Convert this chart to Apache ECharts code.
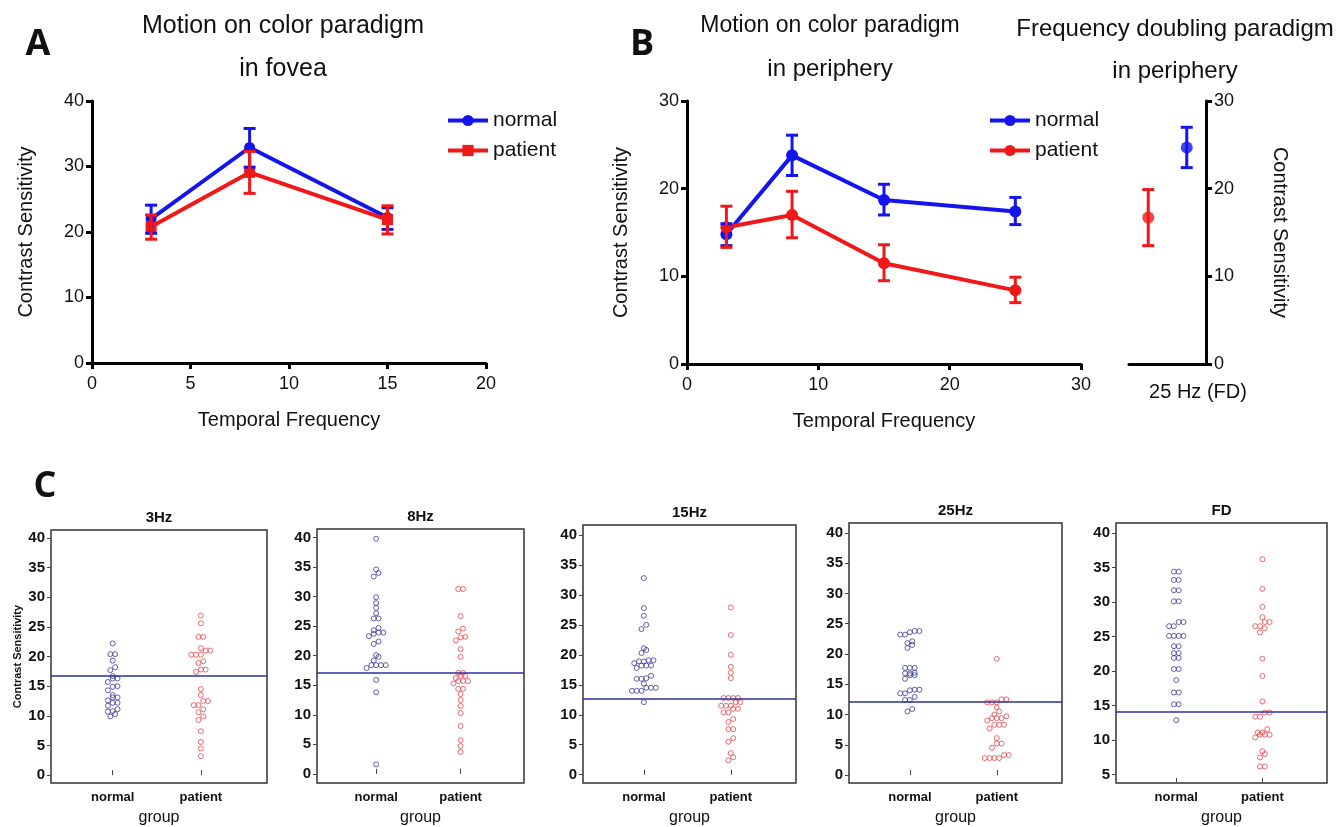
<!DOCTYPE html>
<html>
<head>
<meta charset="utf-8">
<script src="https://cdn.jsdelivr.net/npm/echarts@6/dist/echarts.min.js"></script>
<style>
  html, body { margin: 0; background: #fff; }
  #main { width: 1336px; height: 827px; }
</style>
</head>
<body>
<div id="main"></div>
<script>
// A: motion on color, fovea
const freqA = [3, 8, 15];
const normalA = [22.0, 32.9, 22.2];
const normalA_lo = [19.8, 29.9, 20.4];
const normalA_hi = [24.1, 35.8, 23.7];
const patientA = [20.8, 29.1, 21.9];
const patientA_lo = [18.9, 25.9, 19.7];
const patientA_hi = [22.6, 32.3, 24.0];

// B: motion on color, periphery
const freqB = [3, 8, 15, 25];
const normalB = [14.8, 23.8, 18.7, 17.4];
const normalB_lo = [13.5, 21.5, 17.0, 15.9];
const normalB_hi = [16.0, 26.1, 20.5, 19.0];
const patientB = [15.6, 17.0, 11.5, 8.4];
const patientB_lo = [13.3, 14.4, 9.5, 7.0];
const patientB_hi = [18.0, 19.7, 13.6, 9.9];

// B right: frequency doubling 25 Hz
const fdGroups = ['patient', 'normal'];
const fdMean = [16.7, 24.7];
const fdLo = [13.5, 22.4];
const fdHi = [19.9, 27.0];

// C: individual values
const panelNames = ['3Hz', '8Hz', '15Hz', '25Hz', 'FD'];
const groupNames = ['normal', 'patient'];
const normal3 = [22.2, 20.4, 20.4, 19.3, 18.2, 17.7, 16.7, 16.3, 16.3, 15.7, 15.0, 14.9, 14.3, 13.5, 13.1, 13.1, 12.6, 12.2, 12.2, 11.7, 11.1, 10.8, 10.7, 10.3, 9.9];
const patient3 = [26.9, 25.6, 23.3, 23.3, 21.4, 21.0, 21.0, 20.3, 20.3, 20.3, 19.2, 18.9, 17.8, 17.8, 17.4, 14.5, 13.5, 12.5, 12.5, 11.8, 11.8, 11.1, 10.6, 9.9, 9.3, 7.4, 5.6, 4.5, 3.2];
const normal8 = [39.8, 34.6, 34.0, 33.4, 29.9, 28.9, 28.1, 27.2, 26.3, 26.3, 24.7, 24.3, 23.9, 23.9, 23.7, 23.3, 22.4, 22.0, 20.1, 19.8, 19.2, 18.4, 18.4, 18.4, 18.4, 17.9, 15.9, 13.8, 1.6];
const patient8 = [31.3, 31.3, 26.7, 24.6, 24.1, 23.2, 23.1, 22.6, 21.1, 19.8, 17.1, 17.1, 16.6, 16.6, 16.2, 15.7, 15.7, 15.7, 15.3, 14.4, 14.4, 13.5, 12.5, 11.5, 10.3, 8.1, 5.7, 4.7, 3.7];
const normal15 = [32.8, 27.8, 26.5, 25.0, 24.3, 21.1, 20.8, 20.3, 19.1, 19.1, 18.9, 18.9, 18.6, 18.2, 18.2, 18.2, 17.8, 16.5, 16.1, 16.0, 16.0, 15.2, 14.5, 14.5, 14.5, 14.0, 14.0, 14.0, 12.1];
const patient15 = [27.9, 23.3, 20.0, 18.0, 17.0, 16.1, 12.8, 12.8, 12.8, 12.8, 12.1, 12.1, 11.5, 11.5, 11.5, 11.0, 11.0, 10.4, 10.4, 9.3, 8.8, 7.6, 7.6, 6.1, 5.5, 3.6, 2.9, 2.4];
const normal25 = [23.8, 23.8, 23.6, 23.2, 23.2, 22.1, 21.8, 21.5, 21.0, 17.7, 17.7, 17.7, 16.9, 16.8, 16.8, 16.5, 16.5, 15.9, 14.1, 14.1, 14.0, 13.5, 13.5, 12.9, 12.4, 12.4, 10.9, 10.5];
const patient25 = [19.2, 12.5, 12.5, 12.0, 12.0, 12.0, 11.2, 10.5, 10.0, 9.7, 9.4, 9.4, 9.4, 9.0, 8.3, 8.3, 8.3, 7.7, 6.1, 5.2, 5.2, 4.5, 3.3, 3.3, 2.8, 2.8, 2.8, 2.8];
const normalFD = [34.4, 34.4, 33.2, 33.2, 31.7, 31.7, 30.1, 30.1, 27.1, 27.1, 26.5, 26.5, 25.1, 25.1, 25.1, 25.1, 23.6, 23.6, 22.6, 22.6, 21.9, 21.9, 20.3, 20.3, 18.7, 16.9, 16.9, 15.2, 15.2, 12.9];
const patientFD = [36.2, 31.9, 29.3, 27.8, 27.1, 27.1, 26.5, 26.5, 26.2, 25.6, 21.8, 19.3, 15.6, 14.0, 14.0, 13.4, 13.4, 11.6, 11.1, 11.1, 10.8, 10.8, 10.8, 10.4, 8.4, 8.0, 7.5, 6.2, 6.2];
const cutoffs = [16.8, 17.1, 12.7, 12.1, 14.1];
const ticksC = [0, 5, 10, 15, 20, 25, 30, 35, 40];
const ticksFD = [5, 10, 15, 20, 25, 30, 35, 40];

const cNormal = [normal3, normal8, normal15, normal25, normalFD];
const cPatient = [patient3, patient8, patient15, patient25, patientFD];

const BLUE = '#1414ee';
const RED = '#f01818';
const DOT_BLUE = '#3b3b99';
const DOT_RED = '#e6474d';
const FONT = '"Liberation Sans", Arial, sans-serif';
const NARROW = '"Liberation Sans Narrow", "Liberation Sans", Arial, sans-serif';

const chart = echarts.init(document.getElementById('main'));

// layout of the small dot plots
const cGrids = [
  { left: 51, top: 530, width: 216, height: 258 },
  { left: 317, top: 529, width: 207, height: 258 },
  { left: 583, top: 525, width: 213, height: 260 },
  { left: 849, top: 523, width: 213, height: 260 },
  { left: 1116, top: 523, width: 211, height: 261 }
];
const cRanges = [[-1.32, 41.32], [-1.55, 41.45], [-1.38, 41.65], [-1.32, 41.65], [3.8, 41.44]];
const X_MIN = 0.3, X_MAX = 2.75;

// stack close values side by side, like a dot plot
function swarm(values, center, grid, yr) {
  const pxX = grid.width / (X_MAX - X_MIN);
  const pxY = grid.height / (yr[1] - yr[0]);
  const d = 4.8;
  const rows = [];
  values.slice().sort((a, b) => a - b).forEach((v) => {
    const row = rows[rows.length - 1];
    if (row && (v - row[0]) * pxY < d * 0.9) row.push(v);
    else rows.push([v]);
  });
  const out = [];
  rows.forEach((row) => {
    row.forEach((v, i) => out.push([center + (i - (row.length - 1) / 2) * d / pxX, v]));
  });
  return out;
}

function errorBars(xs, lo, hi, color, axis) {
  return {
    type: 'custom',
    xAxisIndex: axis,
    yAxisIndex: axis,
    silent: true,
    z: 4,
    data: xs.map((x, i) => [x, lo[i], hi[i]]),
    renderItem: (params, api) => {
      const top = api.coord([api.value(0), api.value(2)]);
      const bot = api.coord([api.value(0), api.value(1)]);
      const c = typeof color === 'function' ? color(params.dataIndex) : color;
      const w = 6;
      const st = { stroke: c, lineWidth: 3 };
      return {
        type: 'group',
        children: [
          { type: 'line', shape: { x1: top[0], y1: top[1], x2: bot[0], y2: bot[1] }, style: st },
          { type: 'line', shape: { x1: top[0] - w, y1: top[1], x2: top[0] + w, y2: top[1] }, style: st },
          { type: 'line', shape: { x1: bot[0] - w, y1: bot[1], x2: bot[0] + w, y2: bot[1] }, style: st }
        ]
      };
    }
  };
}

const zip = (xs, ys) => xs.map((x, i) => [x, ys[i]]);

const bigAxis = {
  axisLine: { show: true, onZero: false, lineStyle: { color: '#000', width: 3 } },
  axisTick: { show: true, length: 6, lineStyle: { color: '#000', width: 3 } },
  axisLabel: { color: '#111', fontSize: 18, fontFamily: FONT, margin: 8 },
  splitLine: { show: false },
  nameLocation: 'middle',
  nameTextStyle: { color: '#111', fontSize: 20, fontFamily: FONT }
};
const xLabel = { color: '#111', fontSize: 18, fontFamily: FONT, margin: 12 };

const xAxes = [
  Object.assign({}, bigAxis, { gridIndex: 0, type: 'value', min: 0, max: 20, interval: 5, name: 'Temporal Frequency', nameGap: 47, axisLabel: xLabel }),
  Object.assign({}, bigAxis, { gridIndex: 1, type: 'value', min: 0, max: 30, interval: 10, name: 'Temporal Frequency', nameGap: 47, axisLabel: xLabel }),
  { gridIndex: 2, type: 'category', data: fdGroups, axisLine: { show: true, onZero: false, lineStyle: { color: '#000', width: 3 } },
    axisTick: { show: false }, axisLabel: { show: false }, splitLine: { show: false } }
];
const yAxes = [
  Object.assign({}, bigAxis, { gridIndex: 0, type: 'value', min: 0, max: 40, interval: 10, name: 'Contrast Sensitivity', nameGap: 56 }),
  Object.assign({}, bigAxis, { gridIndex: 1, type: 'value', min: 0, max: 30, interval: 10, name: 'Contrast Sensitivity', nameGap: 56 }),
  Object.assign({}, bigAxis, { gridIndex: 2, type: 'value', position: 'right', min: 0, max: 30, interval: 10,
    name: 'Contrast Sensitivity', nameGap: 64, nameRotate: -90 })
];

const grids = [
  { left: 92, top: 101, width: 394, height: 262 },
  { left: 687, top: 101, width: 394, height: 263 },
  { left: 1129, top: 101, width: 77, height: 263 }
];

const series = [
  { type: 'line', name: 'normal', xAxisIndex: 0, yAxisIndex: 0, data: zip(freqA, normalA), symbol: 'circle', symbolSize: 11,
    lineStyle: { color: BLUE, width: 4 }, itemStyle: { color: BLUE }, z: 3 },
  { type: 'line', name: 'patient', xAxisIndex: 0, yAxisIndex: 0, data: zip(freqA, patientA), symbol: 'rect', symbolSize: 11,
    lineStyle: { color: RED, width: 4 }, itemStyle: { color: RED }, z: 3 },
  errorBars(freqA, normalA_lo, normalA_hi, BLUE, 0),
  errorBars(freqA, patientA_lo, patientA_hi, RED, 0),
  { type: 'line', name: 'normal ', xAxisIndex: 1, yAxisIndex: 1, data: zip(freqB, normalB), symbol: 'circle', symbolSize: 12,
    lineStyle: { color: BLUE, width: 4 }, itemStyle: { color: BLUE }, z: 3 },
  { type: 'line', name: 'patient ', xAxisIndex: 1, yAxisIndex: 1, data: zip(freqB, patientB), symbol: 'circle', symbolSize: 12,
    lineStyle: { color: RED, width: 4 }, itemStyle: { color: RED }, z: 3 },
  errorBars(freqB, normalB_lo, normalB_hi, BLUE, 1),
  errorBars(freqB, patientB_lo, patientB_hi, RED, 1),
  { type: 'scatter', xAxisIndex: 2, yAxisIndex: 2, data: fdMean, symbolSize: 12,
    itemStyle: { color: (p) => (p.dataIndex === 0 ? RED : BLUE) }, z: 3 },
  errorBars([0, 1], fdLo, fdHi, (i) => (i === 0 ? RED : BLUE), 2)
];

panelNames.forEach((name, i) => {
  const k = i + 3;
  const g = cGrids[i];
  const yr = cRanges[i];
  grids.push(Object.assign({ show: true, borderColor: '#333', borderWidth: 1.5 }, g));
  xAxes.push({
    gridIndex: k, type: 'value', min: X_MIN, max: X_MAX,
    axisLine: { show: false },
    axisTick: { inside: true, length: 5, customValues: [1, 2], lineStyle: { color: '#444' } },
    axisLabel: { customValues: [1, 2], formatter: (v) => groupNames[Math.round(v) - 1], color: '#111',
      fontSize: 13, fontWeight: 'bold', fontFamily: FONT, margin: 8 },
    splitLine: { show: false },
    name: 'group', nameLocation: 'middle', nameGap: 27,
    nameTextStyle: { color: '#111', fontSize: 16, fontFamily: FONT }
  });
  yAxes.push({
    gridIndex: k, type: 'value', min: yr[0], max: yr[1],
    axisLine: { show: false },
    axisTick: { length: 4, customValues: i === 4 ? ticksFD : ticksC, lineStyle: { color: '#444' } },
    axisLabel: { customValues: i === 4 ? ticksFD : ticksC, color: '#111', fontSize: 15, fontWeight: 'bold',
      fontFamily: FONT, margin: 6 },
    splitLine: { show: false },
    name: i === 0 ? 'Contrast Sensitivity' : '', nameLocation: 'middle', nameGap: 28,
    nameTextStyle: { color: '#111', fontSize: 11, fontWeight: 'bold', fontFamily: FONT }
  });
  series.push({
    type: 'scatter', xAxisIndex: k, yAxisIndex: k, data: swarm(cNormal[i], 1, g, yr), symbol: 'circle', symbolSize: 5,
    itemStyle: { color: 'rgba(255,255,255,0)', borderColor: DOT_BLUE, borderWidth: 1 },
    markLine: { silent: true, symbol: ['none', 'none'], label: { show: false },
      lineStyle: { color: '#2a30a0', width: 1.5, type: 'solid' }, data: [{ yAxis: cutoffs[i] }] }
  });
  series.push({
    type: 'scatter', xAxisIndex: k, yAxisIndex: k, data: swarm(cPatient[i], 2, g, yr), symbol: 'circle', symbolSize: 5,
    itemStyle: { color: 'rgba(255,255,255,0)', borderColor: DOT_RED, borderWidth: 1 }
  });
});

const txt = (x, y, text, font) => ({
  type: 'text', x: x, y: y, silent: true,
  style: { text: text, font: font, fill: '#111', textAlign: 'center', textVerticalAlign: 'middle' }
});

const graphics = [
  txt(38, 45, 'A', 'bold 36px "Open Sans", sans-serif'),
  txt(283, 26, 'Motion on color paradigm', '25px ' + FONT),
  txt(283, 69, 'in fovea', '25px ' + FONT),
  txt(642, 45, 'B', 'bold 36px "Open Sans", sans-serif'),
  txt(830, 26, 'Motion on color paradigm', '23px ' + NARROW),
  txt(830, 69, 'in periphery', '24px ' + NARROW),
  txt(1175, 29, 'Frequency doubling paradigm', '24px ' + NARROW),
  txt(1175, 71, 'in periphery', '24px ' + NARROW),
  txt(1198, 392, '25 Hz (FD)', '20px ' + FONT),
  txt(45, 487, 'C', 'bold 36px "Open Sans", sans-serif')
];
panelNames.forEach((name, i) => {
  const g = cGrids[i];
  graphics.push(txt(g.left + g.width / 2, g.top - 12, name, 'bold 15px ' + FONT));
});

const legendBase = {
  orient: 'vertical', selectedMode: false, itemWidth: 40, itemHeight: 14, itemGap: 9,
  lineStyle: { width: 4 },
  textStyle: { color: '#111', fontSize: 21, fontFamily: FONT }
};

chart.setOption({
  animation: false,
  backgroundColor: '#fff',
  grid: grids,
  xAxis: xAxes,
  yAxis: yAxes,
  legend: [
    Object.assign({ left: 441, top: 105, data: ['normal', 'patient'] }, legendBase),
    Object.assign({ left: 983, top: 105, data: ['normal ', 'patient '], formatter: (n) => n.trim() }, legendBase)
  ],
  graphic: graphics,
  series: series
});
</script>
</body>
</html>
